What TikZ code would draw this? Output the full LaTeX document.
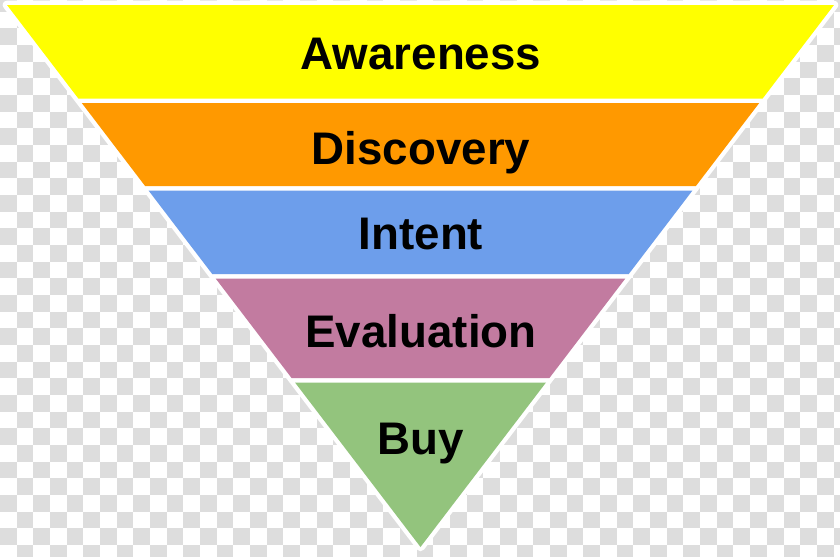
\documentclass[tikz,border=0pt]{standalone}
\usepackage{fontspec}
\setmainfont{Liberation Sans}
\definecolor{chkgray}{RGB}{221,221,221}
\definecolor{awarecol}{HTML}{FFFF00}
\definecolor{discocol}{HTML}{FF9900}
\definecolor{intentcol}{HTML}{6D9EEB}
\definecolor{evalcol}{HTML}{C27BA0}
\definecolor{buycol}{HTML}{93C47D}

\begin{document}
\begin{tikzpicture}
  [
    x=0.03cm, y=-0.03cm,
    cell/.style={fill=chkgray},
    rim/.style={draw=white, fill=white, line width=2.6mm, line join=round},
    lbl/.style={anchor=base, inner sep=0pt, text=black, font=\fontsize{39}{42}\selectfont\bfseries}
  ]
  \useasboundingbox (0,0) rectangle (840,556);
  \clip (0,0) rectangle (840,556);
  \fill[white] (0,0) rectangle (840,556);
  \foreach \i in {0,...,50}
    \foreach \j in {0,2,...,34}
      \fill[cell] ({\i*16.67},{-5+(\j+mod(\i,2))*16.67}) rectangle ++(16.67,16.67);

  \coordinate (tl) at (7,5);
  \coordinate (tr) at (834,5);
  \coordinate (tip) at (420.5,547);
  \filldraw[rim] (tl) -- (tr) -- (tip) -- cycle;

  \def\hw{0.7629}
  \foreach \ya/\yb/\col in {5/98.5/awarecol, 103/186/discocol, 190.5/274/intentcol,
                            278.5/378/evalcol, 382.5/547/buycol}
    \fill[\col] ({420.5-\hw*(547-\ya)},\ya) -- ({420.5+\hw*(547-\ya)},\ya)
      -- ({420.5+\hw*(547-\yb)},\yb) -- ({420.5-\hw*(547-\yb)},\yb) -- cycle;

  \node (aware) [lbl] at (421,69) {Awareness};
  \node (disco) [lbl] at (421,164) {Discovery};
  \node (intent) [lbl] at (421,249) {Intent};
  \node (eval) [lbl] at (421,347) {Evaluation};
  \node (buy) [lbl] at (421,454) {Buy};
\end{tikzpicture}
\end{document}
